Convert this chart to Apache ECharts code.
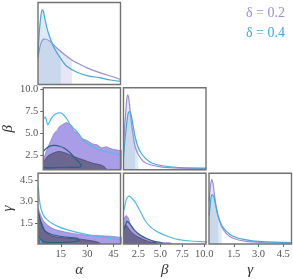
<!DOCTYPE html>
<html><head><meta charset="utf-8">
<script src="https://cdn.jsdelivr.net/npm/echarts@6/dist/echarts.min.js"></script>
<style>html,body{margin:0;padding:0;background:#fff}#c{width:293px;height:279px}</style>
</head><body><div id="c"></div>
<script>
// ---------- data ----------
const seriesNames = ['δ = 0.2', 'δ = 0.4'];
const axisNames = ['α', 'β', 'γ'];
const alphaRange = [2, 49];
const betaRange = [0.8, 10.2];
const gammaRange = [0, 5];
const alphaTicks = [15, 30, 45];
const betaTicks = [2.5, 5, 7.5, 10];
const gammaTicks = [1.5, 3, 4.5];

// 1-D marginal densities (normalised), δ=0.2 (A) and δ=0.4 (B)
const alphaKdeA = [[2,0.328],[3.15,0.462],[4.12,0.526],[5.15,0.553],[6.0,0.555],[8.88,0.526],[12.7,0.446],[18.4,0.344],[21.3,0.30],[24.2,0.264],[29.9,0.203],[37.5,0.142],[43.3,0.103],[49,0.061]];
const alphaKdeB = [[2,0.365],[2.86,0.668],[3.72,0.851],[4.46,0.911],[5.15,0.887],[6.01,0.790],[7.9,0.628],[10.77,0.465],[15.0,0.315],[18.4,0.222],[24.2,0.149],[29.9,0.109],[37.5,0.081],[43.3,0.055],[49,0.040]];
const alphaCut = [21.3, 15.0];

const betaKdeA = [[0.8,0.244],[0.91,0.488],[1.05,0.691],[1.17,0.854],[1.28,0.915],[1.37,0.890],[1.47,0.813],[1.66,0.610],[1.86,0.448],[2.12,0.284],[2.5,0.183],[3.07,0.101],[3.84,0.061],[5.18,0.033],[7.08,0.021],[10.2,0.016]];
const betaKdeB = [[0.8,0.146],[0.97,0.366],[1.17,0.570],[1.32,0.683],[1.47,0.711],[1.6,0.695],[1.74,0.630],[2.04,0.448],[2.31,0.326],[2.5,0.27],[2.69,0.223],[3.27,0.143],[4.03,0.082],[5.18,0.049],[7.08,0.028],[10.2,0.021]];
const betaCut = [2.12, 2.5];

const gammaKdeA = [[0,0.60],[0.08,0.798],[0.16,0.908],[0.24,0.859],[0.32,0.715],[0.42,0.552],[0.56,0.389],[0.77,0.245],[1.07,0.144],[1.46,0.082],[2.17,0.040],[3.17,0.021],[5.0,0.012]];
const gammaKdeB = [[0,0.40],[0.06,0.512],[0.12,0.654],[0.2,0.696],[0.3,0.654],[0.42,0.531],[0.56,0.389],[0.77,0.266],[1.07,0.175],[1.46,0.110],[2.17,0.061],[3.17,0.033],[5.0,0.021]];
const gammaCut = [0.56, 0.77];

// 2-D credible contours [x, y]
const betaAlphaOuterA = [[2,1.95],[3.72,2.86],[6.01,3.90],[8.88,5.04],[10.5,5.3],[11.74,5.73],[14.6,6.08],[16.33,6.22],[18.05,6.0],[19.2,5.9],[20.34,5.35],[23.2,4.93],[26.07,4.36],[28.93,4.13],[31.8,3.78],[34.66,3.67],[37.53,3.32],[40.4,3.44],[43.26,3.21],[46.13,3.09],[49.5,2.98],[51,2.95],[51,0],[0,0],[0,1.7]];
const betaAlphaInnerA = [[2,1.72],[5.04,2.41],[8.88,2.78],[11.74,2.90],[15.58,2.72],[20.34,2.33],[26.07,1.95],[31.8,1.57],[37.53,1.32],[39.8,1.03],[41,0.6],[41,0],[0,0],[0,1.6]];
const betaAlphaOuterB = [[0,6.4],[2,6.65],[3.43,6.82],[4.69,5.96],[6.99,6.73],[8.88,7.11],[10.77,7.30],[13.06,7.30],[14.21,7.11],[16.5,6.61],[18.45,5.96],[20.34,5.58],[23.2,5.01],[26.07,4.24],[29.91,3.67],[33.69,3.29],[37.53,3.01],[43.26,2.75],[49,2.52],[52,2.45],[52,0],[0,0]];
const betaAlphaInnerB = [[2,2.86],[4.29,3.32],[6.58,3.55],[8.88,3.59],[11.74,3.50],[14.61,3.29],[18.45,2.72],[22.23,1.95],[25.09,1.37],[24.35,1.11],[14.61,1.09],[6.01,1.03],[2.57,1.09],[1.43,1.95]];

const gammaAlphaOuterA = [[2,2.58],[3.15,2.15],[5.04,1.64],[7.90,1.29],[11.74,1.02],[18.45,0.82],[26.07,0.67],[37.53,0.58],[43.26,0.55],[49,0.47],[52,0.45],[52,-1],[0,-1],[0,3.0]];
const gammaAlphaInnerA = [[2,2.21],[4.12,1.33],[6.01,0.88],[8.88,0.61],[13.63,0.47],[20.34,0.39],[27.96,0.31],[35.64,0.14],[38.1,-0.03],[38.5,-1],[0,-1],[0,2.6]];
const gammaAlphaOuterB = [[1,4.6],[2.17,3.99],[2.74,3.17],[3.55,2.56],[5.04,2.04],[6.99,1.74],[9.85,1.47],[13.63,1.23],[18.45,1.02],[24.18,0.82],[29.91,0.67],[37.53,0.51],[43.26,0.40],[49,0.31],[52,0.28],[52,-1],[5,-1],[3.5,0.3],[2.3,0.5],[1,0.7]];
const gammaAlphaInnerB = [[2.17,2.27],[3.15,1.78],[4.12,1.43],[6.01,0.92],[9.85,0.67],[16.5,0.51],[24.18,0.41],[25.5,0.25],[18.45,0.12],[6.99,0.12],[4.12,0.25],[2.57,0.49],[0.85,0.92],[1,2.5]];

const gammaBetaOuterA = [[0.6,1.5],[0.86,1.78],[1.09,2.01],[1.35,1.84],[1.55,1.43],[1.92,1.02],[2.50,0.67],[3.27,0.41],[4.22,0.20],[5.18,0.10],[6.33,0.03],[7,-1],[0.6,-1]];
const gammaBetaInnerA = [[0.6,1.0],[0.86,1.20],[1.09,1.33],[1.35,1.12],[1.74,0.82],[2.31,0.55],[3.07,0.31],[3.84,0.14],[4.64,0.03],[5,-1],[0.6,-1]];
const gammaBetaOuterB = [[0.5,1.6],[0.86,2.45],[1.1,3.1],[1.35,3.37],[1.66,3.28],[2.12,2.96],[2.69,2.33],[3.27,1.64],[4.03,1.12],[4.79,0.82],[5.94,0.51],[7.08,0.31],[8.43,0.21],[10.2,0.15],[11,0.12],[11,-1],[0.5,-1]];
const gammaBetaInnerB = [[0.6,0.8],[0.86,1.04],[1.20,1.60],[1.55,1.41],[2.0,1.02],[2.69,0.64],[3.50,0.37],[4.41,0.17],[5.2,0.06],[5.6,-0.5],[0.6,-0.5]];

// ---------- styles ----------
const PURPLE = '#9a8fd4';
const BLUE = '#45a8d8';
const PURPLE_FILL = 'rgba(150,140,210,0.32)';
const BLUE_FILL = 'rgba(100,170,215,0.32)';
const OUTER_A = { fill: '#a99de8', stroke: '#8c80d2', lineWidth: 0.8 };
const INNER_A = { fill: '#6b6790', stroke: '#4c4870', lineWidth: 0.8 };
const OUTER_B = { fill: 'none', stroke: '#52bbe2', lineWidth: 1.2 };
const INNER_B = { fill: 'none', stroke: '#2b5f80', lineWidth: 1.2 };
const FONT = 'Liberation Serif';

const colX = [38, 123.5, 209];
const rowY = [2.5, 87.8, 173.2];
const SIZE = 82.5;

// grids: 0 α-marg, 1 β|α, 2 β-marg, 3 γ|α, 4 γ|β, 5 γ-marg
const cells = [[0,0],[1,0],[1,1],[2,0],[2,1],[2,2]];
const grid = cells.map(([r,c]) => ({
  left: colX[c], top: rowY[r], width: SIZE, height: SIZE - 0.5,
  show: true, z: 10, backgroundColor: 'transparent', borderColor: '#737373', borderWidth: 1.4
}));

const ranges = [alphaRange, betaRange, gammaRange];
const ticks = [alphaTicks, betaTicks, gammaTicks];
const fmt = [v => String(v), v => v.toFixed(1), v => v.toFixed(1)];

function valAxis(paramIdx, showLabels, isY, gap) {
  const a = {
    type: 'value', min: ranges[paramIdx][0], max: ranges[paramIdx][1],
    axisLine: { show: false }, splitLine: { show: false },
    axisTick: { show: showLabels, length: 3, inside: false, lineStyle: { color: '#666', width: 1 }, customValues: ticks[paramIdx] },
    axisLabel: { show: showLabels, customValues: ticks[paramIdx], formatter: fmt[paramIdx], color: '#555',
                 fontFamily: FONT, fontSize: 10.5, margin: 5 }
  };
  if (showLabels) {
    a.name = axisNames[paramIdx];
    a.nameLocation = 'middle';
    a.nameGap = gap;
    a.nameTextStyle = { fontFamily: FONT, fontStyle: 'italic', fontSize: 15, color: '#333' };
  }
  return a;
}
function densAxis() {
  return { type: 'value', min: 0, max: 1, show: false };
}

const xAxis = [
  valAxis(0, false, false), valAxis(0, false, false), valAxis(1, false, false),
  valAxis(0, true, false, 19), valAxis(1, true, false, 19), valAxis(2, true, false, 19)
].map((a, i) => Object.assign(a, { gridIndex: i }));
const yAxis = [
  densAxis(), valAxis(1, true, true, 23), densAxis(),
  valAxis(2, true, true, 17), valAxis(2, false, true), densAxis()
].map((a, i) => Object.assign(a, { gridIndex: i }));

const series = [];
function marginal(g, kde, cut, color, fill, name) {
  series.push({
    type: 'line', xAxisIndex: g, yAxisIndex: g, data: kde.filter(p => p[0] <= cut),
    showSymbol: false, smooth: 0.3, silent: true, lineStyle: { width: 0 },
    areaStyle: { color: fill, origin: 'start' }, z: 2
  });
  series.push({
    type: 'line', name: name, xAxisIndex: g, yAxisIndex: g, data: kde,
    showSymbol: false, smooth: 0.3, silent: true, lineStyle: { color: color, width: 1.2 },
    itemStyle: { color: color }, z: 4
  });
}
function poly(g, pts, style, z) {
  series.push({
    type: 'custom', xAxisIndex: g, yAxisIndex: g, clip: true, silent: true, z: z,
    data: [pts[0]],
    renderItem: function (params, api) {
      return { type: 'polygon', shape: { points: pts.map(p => api.coord(p)), smooth: 0.25 }, style: Object.assign({}, style) };
    }
  });
}

marginal(0, alphaKdeA, alphaCut[0], PURPLE, PURPLE_FILL, seriesNames[0]);
marginal(0, alphaKdeB, alphaCut[1], BLUE, BLUE_FILL, seriesNames[1]);
marginal(2, betaKdeA, betaCut[0], PURPLE, PURPLE_FILL, seriesNames[0]);
marginal(2, betaKdeB, betaCut[1], BLUE, BLUE_FILL, seriesNames[1]);
marginal(5, gammaKdeA, gammaCut[0], PURPLE, PURPLE_FILL, seriesNames[0]);
marginal(5, gammaKdeB, gammaCut[1], BLUE, BLUE_FILL, seriesNames[1]);

poly(1, betaAlphaOuterA, OUTER_A, 2);
poly(1, betaAlphaInnerA, INNER_A, 3);
poly(1, betaAlphaOuterB, OUTER_B, 4);
poly(1, betaAlphaInnerB, INNER_B, 5);
poly(3, gammaAlphaOuterA, OUTER_A, 2);
poly(3, gammaAlphaInnerA, INNER_A, 3);
poly(3, gammaAlphaOuterB, OUTER_B, 4);
poly(3, gammaAlphaInnerB, INNER_B, 5);
poly(4, gammaBetaOuterA, OUTER_A, 2);
poly(4, gammaBetaInnerA, INNER_A, 3);
poly(4, gammaBetaOuterB, OUTER_B, 4);
poly(4, gammaBetaInnerB, INNER_B, 5);

const chart = echarts.init(document.getElementById('c'), null, { renderer: 'canvas' });
chart.setOption({
  animation: false,
  grid: grid, xAxis: xAxis, yAxis: yAxis, series: series,
  legend: {
    orient: 'vertical', right: 3, top: 1, icon: 'none', itemWidth: 0, itemHeight: 14, itemGap: 6,
    selectedMode: false,
    textStyle: { fontFamily: FONT, fontSize: 14 },
    data: [
      { name: seriesNames[0], textStyle: { color: PURPLE } },
      { name: seriesNames[1], textStyle: { color: BLUE } }
    ]
  }
});
</script></body></html>
